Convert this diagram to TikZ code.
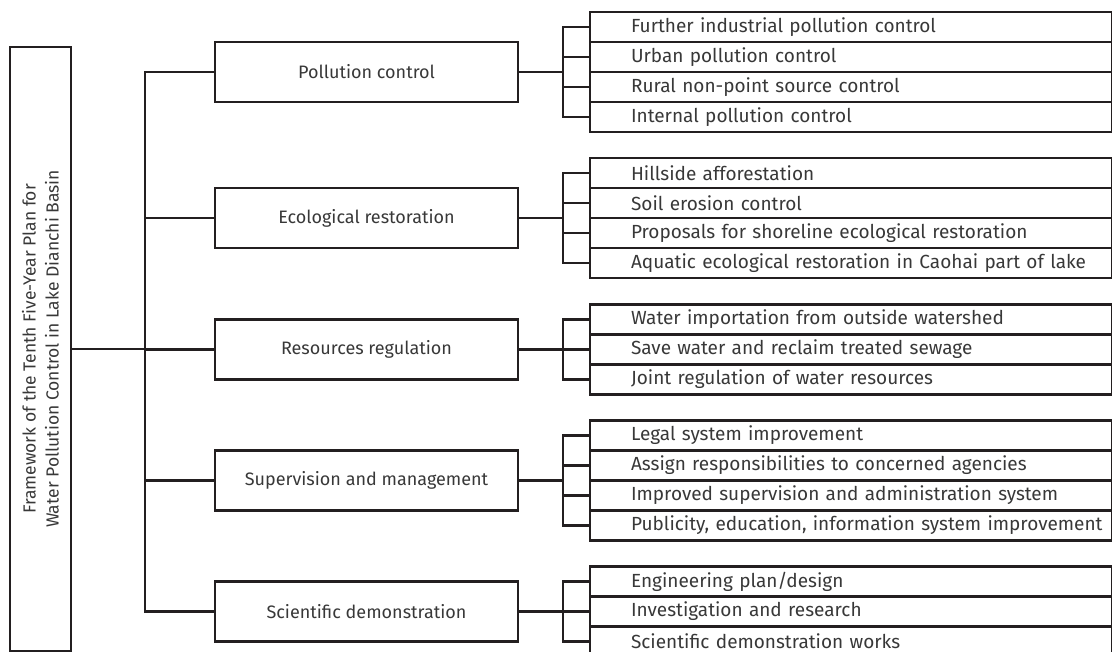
\documentclass[tikz,border=0pt]{standalone}
\usepackage{fontspec}
\setmainfont{Fira Sans}
\definecolor{ln}{HTML}{231F20}
\definecolor{tx}{HTML}{383838}
\begin{document}
\begin{tikzpicture}[x=1bp,y=-1bp,line width=2.1bp,line join=miter,
  every node/.style={font=\fontsize{19bp}{23bp}\selectfont,text=tx},
  rootbox/.style={draw=ln,rotate=90,minimum width=604bp,minimum height=61bp,inner sep=0pt,align=center,font=\fontsize{17.5bp}{23bp}\selectfont},
  catbox/.style={draw=ln,minimum width=303bp,minimum height=60bp,inner sep=0pt,font=\fontsize{18bp}{22bp}\selectfont},
  leafbox/.style={draw=ln,minimum height=30bp,text width=522bp,inner xsep=0pt,inner ysep=0pt,align=left,anchor=west,execute at begin node={\hspace*{41bp}}},
  conn/.style={draw=ln}]
\useasboundingbox (0,0) rectangle (1112,652);
\node[rootbox] (root) at (40.5,349) {Framework of the Tenth Five-Year Plan for\\Water Pollution Control in Lake Dianchi Basin};
\node[catbox] (pc) at (366.5,72) {Pollution control};
\node[catbox] (er) at (366.5,218) {Ecological restoration};
\node[catbox] (rr) at (366.5,349.5) {Resources regulation};
\node[catbox] (sm) at (366.5,480.5) {Supervision and management};
\node[catbox] (sd) at (366.5,611.5) {Scientific demonstration};
% leaves
\node[leafbox] (pc1) at (589,27) {Further industrial pollution control};
\node[leafbox] (pc2) at (589,57) {Urban pollution control};
\node[leafbox] (pc3) at (589,87) {Rural non-point source control};
\node[leafbox] (pc4) at (589,117) {Internal pollution control};
\node[leafbox] (er1) at (589,173) {Hillside afforestation};
\node[leafbox] (er2) at (589,203) {Soil erosion control};
\node[leafbox] (er3) at (589,233) {Proposals for shoreline ecological restoration};
\node[leafbox] (er4) at (589,263) {Aquatic ecological restoration in Caohai part of lake};
\node[leafbox] (rr1) at (589,319.5) {Water importation from outside watershed};
\node[leafbox] (rr2) at (589,349.5) {Save water and reclaim treated sewage};
\node[leafbox] (rr3) at (589,379.5) {Joint regulation of water resources};
\node[leafbox] (sm1) at (589,435.5) {Legal system improvement};
\node[leafbox] (sm2) at (589,465.5) {Assign responsibilities to concerned agencies};
\node[leafbox] (sm3) at (589,495.5) {Improved supervision and administration system};
\node[leafbox] (sm4) at (589,525.5) {Publicity, education, information system improvement};
\node[leafbox] (sd1) at (589,581.5) {Engineering plan/design};
\node[leafbox] (sd2) at (589,611.5) {Investigation and research};
\node[leafbox] (sd3) at (589,641.5) {Scientific demonstration works};
% buses
\coordinate (b0) at (145,0);
\coordinate (b1) at (563,0);
\draw[conn] (root.south) -- (root.south -| b0);
\draw[conn] (pc.west) -- (pc.west -| b0) -- (sd.west -| b0) -- (sd.west);
\foreach \c in {er,rr,sm} \draw[conn] (\c.west) -- (\c.west -| b0);
\foreach \c/\f/\l in {pc/pc1/pc4,er/er1/er4,rr/rr1/rr3,sm/sm1/sm4,sd/sd1/sd3}{
  \draw[conn] (\c.east) -- (\c.east -| b1);
  \draw[conn] (\f.west) -- (\f.west -| b1) -- (\l.west -| b1) -- (\l.west);
}
\foreach \m in {pc2,pc3,er2,er3,rr2,sm2,sm3,sd2} \draw[conn] (\m.west) -- (\m.west -| b1);
\end{tikzpicture}
\end{document}
